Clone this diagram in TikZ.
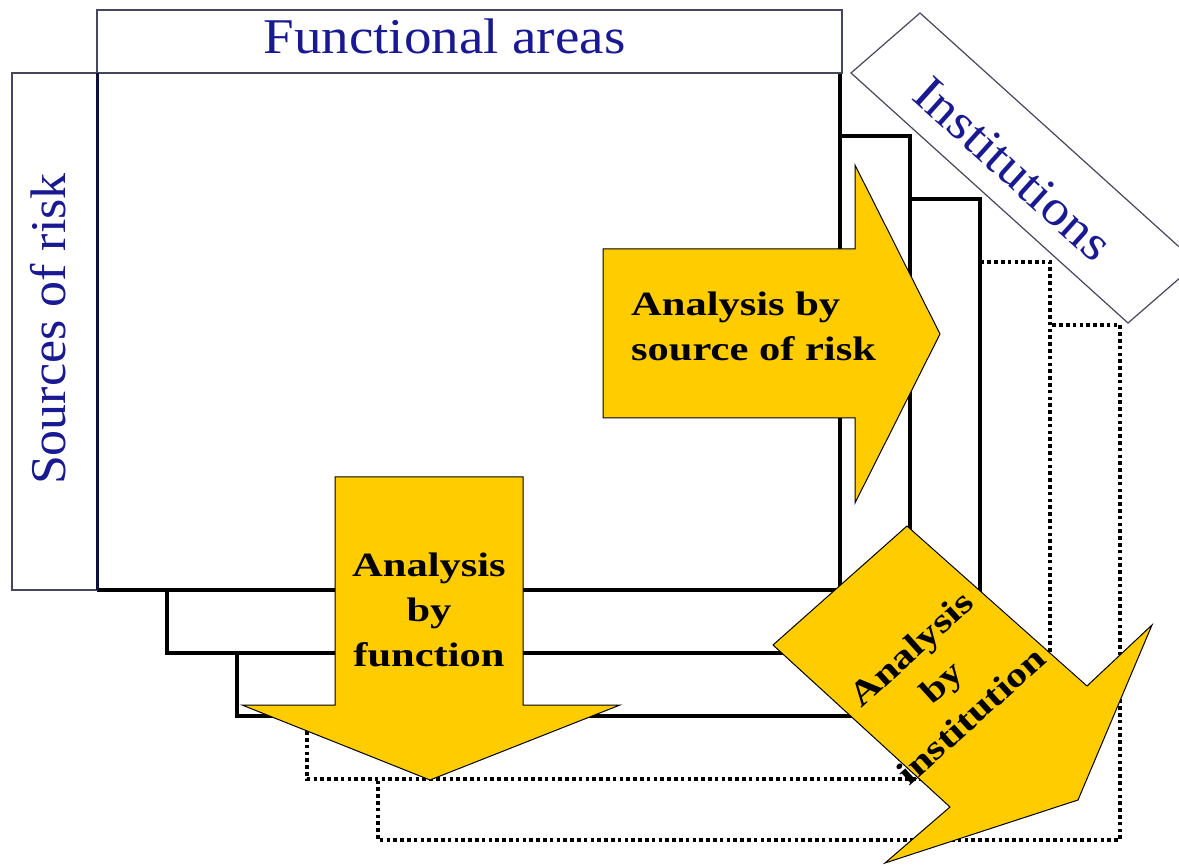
\documentclass[tikz,border=0pt]{standalone}
\usepackage{fontspec}
\setmainfont{Liberation Serif}
\definecolor{gold}{RGB}{255,204,0}
\definecolor{navytext}{RGB}{25,25,145}
\definecolor{boxline}{RGB}{70,70,95}
\definecolor{navyline}{RGB}{15,15,60}
\newcommand{\hwide}[1]{\scalebox{1.25}[1]{#1}}
\newcommand{\bwide}[1]{\scalebox{1.1}[1]{#1}}
\begin{document}
\begin{tikzpicture}[x=1pt,y=-1pt,
  solidrect/.style={draw=black, line width=3.2pt, fill=white},
  dotrect/.style={draw=black, line width=3.6pt, dash pattern=on 3.6pt off 3.2pt, fill=white},
  labelbox/.style={draw=boxline, line width=1.2pt, fill=white},
  arrowshape/.style={fill=gold, draw=black, line width=1pt, line join=miter},
  bluetext/.style={text=navytext, font=\fontsize{50}{55}\selectfont, inner sep=0pt},
  boldtext/.style={font=\bfseries\fontsize{34}{45}\selectfont, inner sep=0pt, text=black},
]
\useasboundingbox (0,0) rectangle (1179,866);
% stacked layers, back to front
\draw[dotrect] (378,325) rectangle (1120,840);
\draw[dotrect] (307,262) rectangle (1050,779);
\draw[solidrect] (237,199) rectangle (980,716);
\draw[solidrect] (167,136) rectangle (910,653);
\fill[white] (97,73) rectangle (840,590);
\draw[black, line width=3.2pt] (840,73) -- (840,590) -- (97,590);
% label boxes
\draw[labelbox] (97,10) rectangle (842,73);
\draw[labelbox] (12,73) rectangle (97,590);
\draw[navyline, line width=3pt] (97,73) -- (97,590);
\node[bluetext] (func) at (444.5,36) {\bwide{Functional areas}};
\node[bluetext, rotate=90] (src) at (48,329) {\scalebox{1.04}[1]{Sources of risk}};
% institutions box (clipped at the right edge)
\fill[white] (851,73) -- (920,13) -- (1179,246.8) -- (1179,278.7) -- (1128,323) -- cycle;
\draw[boxline, line width=1.2pt] (1179,246.8) -- (920,13) -- (851,73) -- (1128,323) -- (1179,278.7);
\node[bluetext, rotate=-42] (inst) at (1013,169) {\bwide{Institutions}};
% arrows
\draw[arrowshape] (335,477) -- (523,477) -- (523,705) -- (620,705) -- (430,780) -- (242,705) -- (335,705) -- cycle;
\node[boldtext, align=center] (afunc) at (429,610) {\hwide{Analysis}\\\hwide{by}\\\hwide{function}};
\draw[arrowshape] (603,249) -- (855,249) -- (855,165) -- (940,334) -- (855,503) -- (855,418) -- (603,418) -- cycle;
\node[boldtext, align=left, anchor=west] (asrc) at (631,326) {\hwide{Analysis by}\\\hwide{source of risk}};
\draw[arrowshape] (773,645) -- (907,526) -- (1087,686) -- (1152,625) -- (1078,800) -- (885,863) -- (950,807) -- cycle;
\node[boldtext, align=center, rotate=42] (ainst) at (941,682) {\hwide{Analysis}\\\hwide{by}\\\hwide{institution}};
\end{tikzpicture}
\end{document}
